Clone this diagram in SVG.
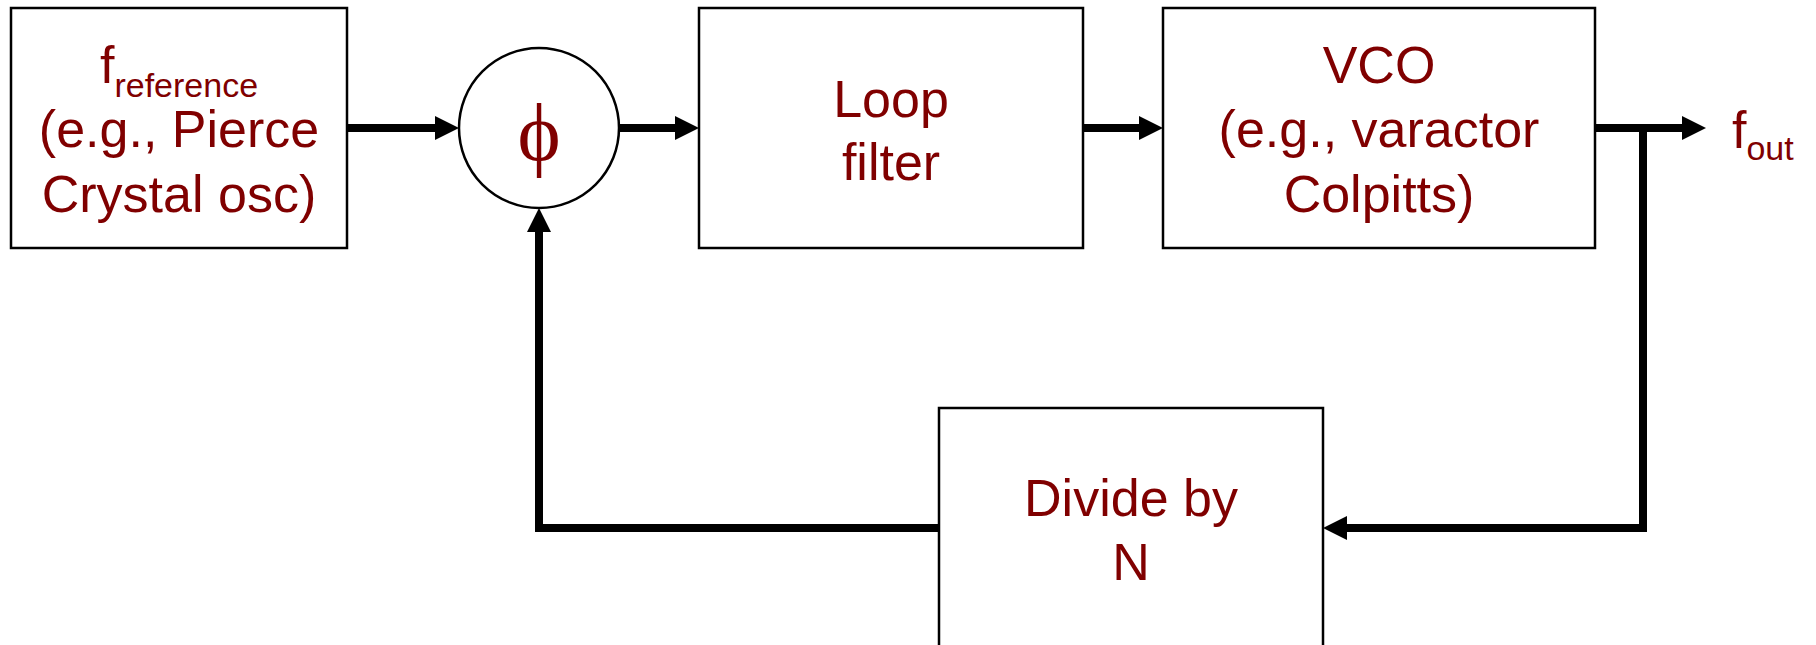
<svg xmlns="http://www.w3.org/2000/svg" width="1816" height="645" viewBox="0 0 1816 645">
  <style>
    .box { fill: #ffffff; stroke: #000000; stroke-width: 2.5; }
    .lbl { font-family: "Liberation Sans", Arial, sans-serif; font-size: 52px; fill: #800000; text-anchor: middle; }
    .sub { font-size: 34px; }
    .phi { font-family: "Liberation Serif", "Times New Roman", serif; font-size: 82px; fill: #800000; text-anchor: middle; }
    .wire { fill: none; stroke: #000000; stroke-width: 8; stroke-linejoin: miter; stroke-linecap: butt; }
  </style>
  <defs>
    <marker id="arrow" markerUnits="userSpaceOnUse" markerWidth="24" markerHeight="24" refX="0" refY="12" orient="auto" overflow="visible">
      <path d="M0,0 L24,12 L0,24 z" fill="#000000"/>
    </marker>
  </defs>
  <rect width="1816" height="645" fill="#ffffff"/>

  <g id="connectors">
    <line class="wire" x1="347" y1="128" x2="435" y2="128" marker-end="url(#arrow)"/>
    <line class="wire" x1="619" y1="128" x2="675" y2="128" marker-end="url(#arrow)"/>
    <line class="wire" x1="1083" y1="128" x2="1139" y2="128" marker-end="url(#arrow)"/>
    <line class="wire" x1="1595" y1="128" x2="1682" y2="128" marker-end="url(#arrow)"/>
    <path class="wire" d="M1643,128 V528 H1347" marker-end="url(#arrow)"/>
    <path class="wire" d="M939,528 H539 V232" marker-end="url(#arrow)"/>
  </g>

  <g id="node-reference">
    <rect class="box" x="11" y="8" width="336" height="240"/>
    <text class="lbl" x="179" y="83">f<tspan class="sub" dy="14">reference</tspan></text>
    <text class="lbl" x="179" y="147">(e.g., Pierce</text>
    <text class="lbl" x="179" y="212">Crystal osc)</text>
  </g>

  <g id="node-phase-detector">
    <circle cx="539" cy="128" r="80" fill="#ffffff" stroke="#000000" stroke-width="2.5"/>
    <text class="phi" x="539" y="160">ϕ</text>
  </g>

  <g id="node-loop-filter">
    <rect class="box" x="699" y="8" width="384" height="240"/>
    <text class="lbl" x="891" y="117">Loop</text>
    <text class="lbl" x="891" y="180">filter</text>
  </g>

  <g id="node-vco">
    <rect class="box" x="1163" y="8" width="432" height="240"/>
    <text class="lbl" x="1379" y="83">VCO</text>
    <text class="lbl" x="1379" y="147">(e.g., varactor</text>
    <text class="lbl" x="1379" y="212">Colpitts)</text>
  </g>

  <g id="node-divider">
    <rect class="box" x="939" y="408" width="384" height="245"/>
    <text class="lbl" x="1131" y="516">Divide by</text>
    <text class="lbl" x="1131" y="580">N</text>
  </g>

  <g id="label-fout">
    <text class="lbl" x="1732" y="148" style="text-anchor:start">f<tspan class="sub" dy="12">out</tspan></text>
  </g>
</svg>
